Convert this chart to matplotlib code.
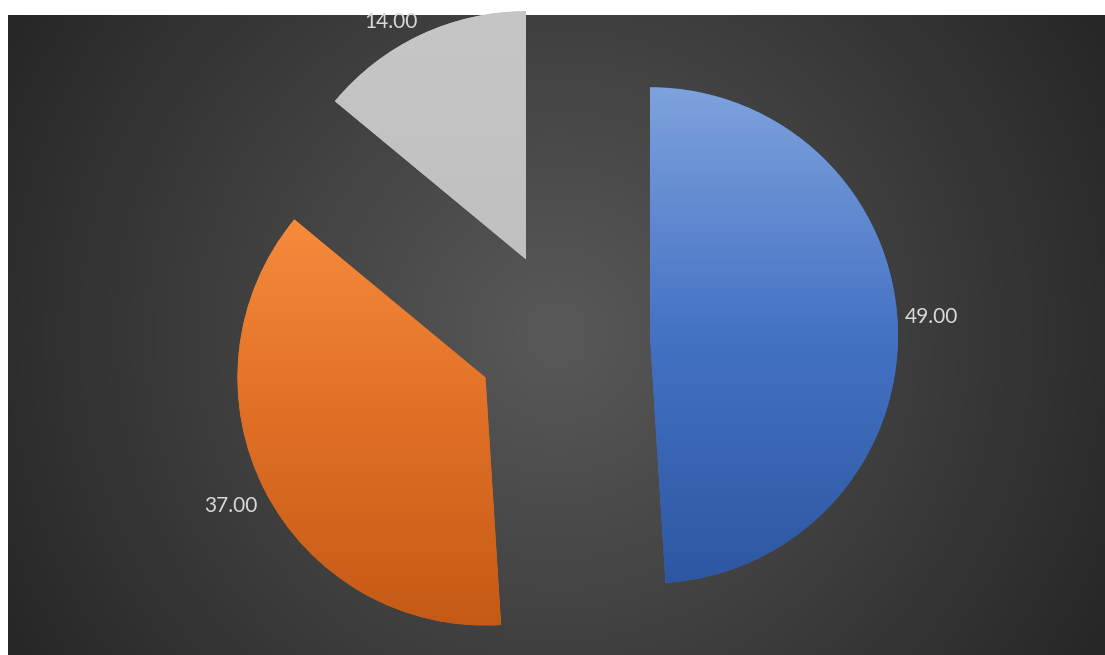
import matplotlib.pyplot as plt
import numpy as np
from matplotlib.colors import LinearSegmentedColormap

# Slice values and fills
values = [49, 37, 14]
labels = ["49.00", "37.00", "14.00"]
grad_stops = [
    ["#7ea2dd", "#4472c4", "#2d57a2"],   # blue
    ["#f68b3c", "#df6f25", "#c55a16"],   # orange
    ["#c6c6c6", "#c3c3c3", "#c0c0c0"],   # gray
]

W, H = 1105, 655
fig = plt.figure(figsize=(W / 100, H / 100), dpi=100, facecolor="white")
ax = fig.add_axes([0, 0, 1, 1])
ax.set_axis_off()

# dark radial background of the chart area
bx0, bx1, by0, by1 = 8, W, 0, H - 15
gx, gy = np.meshgrid(np.linspace(bx0, bx1, 600), np.linspace(by0, by1, 360))
cx, cy = (bx0 + bx1) / 2, (by0 + by1) / 2
dist = np.hypot(gx - cx, gy - cy)
dist = dist / dist.max()
shade = 0.35 - 0.20 * dist
bg = np.dstack([shade, shade, shade])
ax.imshow(bg, extent=[bx0, bx1, by0, by1], origin="lower", zorder=0,
          interpolation="bilinear", aspect="auto")

radius = 248
center = (563, H - 338)
wedges, texts = ax.pie(values, labels=labels, startangle=90, counterclock=False,
                       radius=radius, center=center, explode=[87] * len(values),
                       labeldistance=1.03,
                       colors=[s[1] for s in grad_stops],
                       textprops=dict(color="#d9d9d9", fontsize=15, family="Lato",
                                      zorder=6),
                       wedgeprops=dict(linewidth=0, zorder=2))

# vertical gradient inside each slice
for w, stops in zip(wedges, grad_stops):
    ext = w.get_path().get_extents()
    cmap = LinearSegmentedColormap.from_list("g", stops[::-1])
    col = np.linspace(0, 1, 256).reshape(-1, 1)
    im = ax.imshow(col, cmap=cmap, extent=[ext.x0, ext.x1, ext.y0, ext.y1],
                   origin="lower", aspect="auto", zorder=3, interpolation="bilinear")
    im.set_clip_path(w)

# labels left of the pie centre hang to the right side of their anchor
nudge = [10, -13, 6]
for t, dy in zip(texts, nudge):
    tx, ty = t.get_position()
    t.set_ha("left" if tx > center[0] else "right")
    t.set_position((tx, ty + dy))

ax.set_xlim(0, W)
ax.set_ylim(0, H)
ax.set_aspect("auto")

fig.savefig("out.png", dpi=100, facecolor="white")
